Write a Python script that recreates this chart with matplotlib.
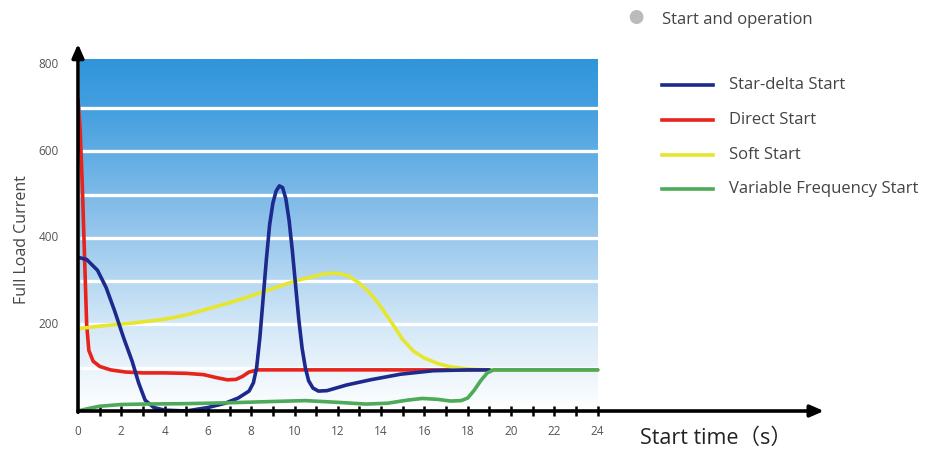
import numpy as np
import matplotlib.pyplot as plt
from matplotlib.colors import LinearSegmentedColormap
from matplotlib.lines import Line2D

plt.rcParams['font.family'] = ['Open Sans', 'Noto Sans CJK SC', 'DejaVu Sans']

# data
star_x = [0, 0.4, 0.9, 1.3, 1.7, 2.1, 2.5, 2.8, 3.1, 3.5, 4.0, 5.0, 6.0, 6.8, 7.4, 7.9, 8.1,
          8.25, 8.4, 8.55, 8.7, 8.85, 9.0, 9.15, 9.3, 9.45, 9.6, 9.75, 9.9, 10.05, 10.2, 10.35,
          10.5, 10.65, 10.85, 11.1, 11.5, 12.4, 13.5, 14.9, 16.4, 18.0, 19.0]
star_y = [355, 350, 325, 285, 230, 170, 115, 65, 25, 8, 2, 0, 8, 18, 30, 46, 65,
          100, 170, 260, 350, 430, 480, 508, 520, 516, 490, 440, 370, 290, 210, 145,
          100, 70, 53, 46, 47, 60, 72, 85, 93, 95, 95]

direct_x = [0, 0.1, 0.2, 0.3, 0.4, 0.5, 0.7, 1.0, 1.5, 2.2, 3.0, 4.0, 5.0, 5.8, 6.4, 6.9, 7.3,
            7.6, 7.9, 8.3, 9.0, 12, 16, 20, 24]
direct_y = [720, 650, 520, 360, 200, 140, 115, 103, 95, 90, 88, 88, 87, 84, 77, 72, 73,
            80, 90, 95, 95, 95, 95, 95, 95]

soft_x = [0, 1.0, 2.5, 4.0, 5.0, 6.0, 7.0, 8.0, 9.0, 10.0, 10.8, 11.5, 12.0, 12.5, 13.0, 13.5,
          14.0, 14.5, 15.0, 15.5, 16.0, 16.6, 17.2, 18.0, 19.0, 20.0, 24]
soft_y = [190, 196, 203, 212, 222, 236, 250, 266, 283, 300, 310, 318, 318, 312, 295, 272,
          240, 203, 165, 138, 122, 110, 102, 97, 95, 95, 95]

vfd_x = [0, 0.5, 1.0, 2.0, 3.0, 5.0, 7.0, 9.0, 10.5, 12.0, 13.3, 14.3, 15.2, 15.9, 16.6, 17.2,
         17.7, 18.0, 18.3, 18.6, 18.9, 19.2, 20, 24]
vfd_y = [0, 6, 11, 15, 16, 17, 19, 22, 24, 20, 16, 18, 25, 29, 27, 23, 24, 30, 48, 70, 88, 95, 95, 95]

x_ticks = [0, 2, 4, 6, 8, 10, 12, 14, 16, 18, 20, 22, 24]
y_ticks = [200, 400, 600, 800]
band_lines = [100, 200, 300, 400, 500, 600, 700]

series = [
    ('Direct Start', direct_x, direct_y, '#e8231b'),
    ('Soft Start', soft_x, soft_y, '#e6e62e'),
    ('Star-delta Start', star_x, star_y, '#1b2a8c'),
    ('Variable Frequency Start', vfd_x, vfd_y, '#4caa58'),
]

fig = plt.figure(figsize=(9.4, 4.49), dpi=100)
ax = fig.add_axes([78 / 940, 38 / 449, 747 / 940, 368 / 449])
ax.set_xlim(0, 34.5)
ax.set_ylim(0, 850)
for s in ax.spines.values():
    s.set_visible(False)

# gradient background
cmap = LinearSegmentedColormap.from_list(
    'bg', [(0, '#ffffff'), (0.25, '#d2e7f7'), (0.55, '#8cc1ea'), (0.85, '#45a0e0'), (1, '#3095db')])
grad = np.linspace(0, 1, 256).reshape(-1, 1)
ax.imshow(grad, cmap=cmap, origin='lower', aspect='auto', extent=[0.1, 24, 0, 812], zorder=0)
for v in band_lines:
    ax.plot([0.1, 24], [v, v], color='white', lw=2.4, zorder=1, solid_capstyle='butt')

for name, xs, ys, c in series:
    ax.plot(xs, ys, color=c, lw=2.6, solid_joinstyle='round', solid_capstyle='round', zorder=3)

# axes with arrows
ax.annotate('', xy=(34.45, 0), xytext=(0, 0), annotation_clip=False,
            arrowprops=dict(arrowstyle='-|>,head_length=0.8,head_width=0.35', color='black', lw=2.6,
                            shrinkA=0, shrinkB=0), zorder=5)
ax.annotate('', xy=(0, 848), xytext=(0, -3), annotation_clip=False,
            arrowprops=dict(arrowstyle='-|>,head_length=0.8,head_width=0.35', color='black', lw=2.6,
                            shrinkA=0, shrinkB=0), zorder=5)

ax.set_xticks(range(1, 25), minor=False)
ax.set_xticklabels([])
ax.tick_params(axis='x', direction='inout', length=7, width=1.8, color='black', pad=0)
for t in x_ticks:
    ax.text(t, -48, str(t), ha='center', va='center', fontsize=8.5, color='#555555')
ax.set_yticks([])
for v in y_ticks:
    ax.text(-0.9, v, str(v), ha='right', va='center', fontsize=8.5, color='#555555')

fig.text(22 / 940, 1 - 240 / 449, 'Full Load Current', rotation=90, ha='center', va='center',
         fontsize=11.5, color='#444444')
fig.text(640 / 940, 1 - 438 / 449, 'Start time（s）', ha='left', va='center',
         fontsize=15.5, color='#222222')

# legend on the right
fig.text(636 / 940, 1 - 20 / 449, '●', ha='center', va='center', fontsize=11, color='#bbbbbb')
fig.text(662 / 940, 1 - 20 / 449, 'Start and operation', ha='left', va='center',
         fontsize=12, color='#444444')
leg_y = [85, 120, 155, 189]
order = [2, 0, 1, 3]
for py, i in zip(leg_y, order):
    name, _, _, c = series[i]
    fig.add_artist(Line2D([662 / 940, 713 / 940], [1 - py / 449] * 2, color=c, lw=2.6))
    fig.text(729 / 940, 1 - py / 449, name, ha='left', va='center', fontsize=12, color='#444444')

fig.savefig('out.png', dpi=100)
